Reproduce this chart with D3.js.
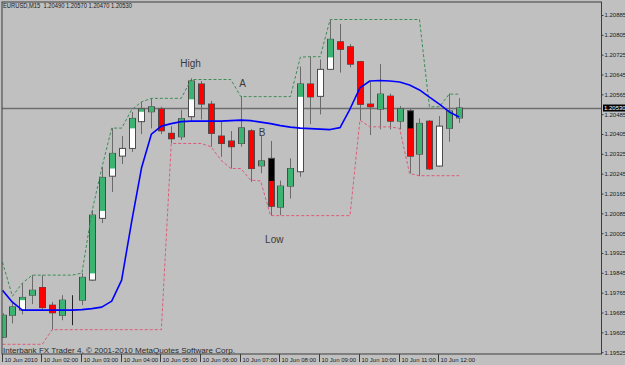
<!DOCTYPE html>
<html>
<head>
<meta charset="utf-8">
<script src="https://cdn.jsdelivr.net/npm/d3@7"></script>
<style>
html, body { margin: 0; padding: 0; background: #c0c0c0; }
svg { display: block; font-family: "Liberation Sans", Arial, sans-serif; }
</style>
</head>
<body>
<svg id="chart" width="625" height="365"></svg>
<script>
// EURUSD M15, 10 Jun 2010 - one value per bar
const symbolTitle = "EURUSD,M15  1.20490 1.20570 1.20470 1.20530";
const footerText = "Interbank FX Trader 4, \u00a9 2001-2010 MetaQuotes Software Corp.";
const bidPrice = 1.20530;

const opens = [1.19606, 1.19694, 1.19715, 1.19775, 1.19806, 1.19735, 1.19694, 1.19763, 1.19755, 1.19836,
    1.20085, 1.20255, 1.20336, 1.20367, 1.20475, 1.20515, 1.20526, 1.20428, 1.20414, 1.20495,
    1.20627, 1.20546, 1.20417, 1.20397, 1.20387, 1.20438, 1.20297, 1.20327, 1.20130, 1.20215,
    1.20273, 1.20627, 1.20577, 1.20686, 1.20797, 1.20777, 1.20717, 1.20546, 1.20526, 1.20578,
    1.20477, 1.20519, 1.20344, 1.20477, 1.20296, 1.20448, 1.20490];
const highs = [1.19702, 1.19748, 1.19824, 1.19856, 1.19856, 1.19748, 1.19775, 1.19775, 1.19864, 1.20118,
    1.20292, 1.20449, 1.20417, 1.20514, 1.20554, 1.20569, 1.20535, 1.20457, 1.20522, 1.20650,
    1.20639, 1.20559, 1.20475, 1.20437, 1.20578, 1.20445, 1.20417, 1.20397, 1.20237, 1.20327,
    1.20697, 1.20737, 1.20726, 1.20885, 1.20869, 1.20788, 1.20720, 1.20636, 1.20707, 1.20588,
    1.20538, 1.20529, 1.20488, 1.20481, 1.20498, 1.20589, 1.20570];
const lows = [1.19602, 1.19661, 1.19698, 1.19739, 1.19715, 1.19634, 1.19674, 1.19654, 1.19735, 1.19832,
    1.20066, 1.20191, 1.20304, 1.20353, 1.20425, 1.20448, 1.20425, 1.20387, 1.20401, 1.20477,
    1.20484, 1.20374, 1.20333, 1.20286, 1.20374, 1.20232, 1.20267, 1.20096, 1.20098, 1.20165,
    1.20253, 1.20465, 1.20504, 1.20683, 1.20673, 1.20694, 1.20481, 1.20421, 1.20444, 1.20444,
    1.20444, 1.20266, 1.20255, 1.20280, 1.20294, 1.20394, 1.20470];
const closes = [1.19694, 1.19728, 1.19766, 1.19795, 1.19725, 1.19704, 1.19755, 1.19763, 1.19847, 1.20098,
    1.20250, 1.20347, 1.20367, 1.20488, 1.20526, 1.20535, 1.20438, 1.20406, 1.20487, 1.20639,
    1.20546, 1.20428, 1.20387, 1.20374, 1.20450, 1.20286, 1.20317, 1.20134, 1.20215, 1.20286,
    1.20627, 1.20575, 1.20686, 1.20807, 1.20767, 1.20707, 1.20545, 1.20535, 1.20586, 1.20477,
    1.20526, 1.20336, 1.20468, 1.20284, 1.20457, 1.20518, 1.20530];

// coloured histogram drawn over the candle bodies (null = none)
const paintFrom = [1.19606, 1.19694, 1.19755, 1.19775, 1.19806, 1.19735, 1.19694, null, 1.19755, 1.19863,
    1.20115, 1.20286, null, 1.20448, 1.20515, 1.20515, 1.20526, 1.20428, 1.20414, 1.20565,
    1.20627, 1.20546, 1.20417, 1.20397, 1.20387, 1.20438, 1.20297, 1.20236, 1.20130, 1.20215,
    1.20575, 1.20627, null, 1.20734, 1.20797, 1.20777, 1.20717, 1.20546, 1.20526, 1.20578,
    1.20477, 1.20448, 1.20344, 1.20477, null, 1.20448, 1.20490];
const paintTo = [1.19694, 1.19728, 1.19766, 1.19795, 1.19725, 1.19704, 1.19755, null, 1.19847, 1.20098,
    1.20250, 1.20347, null, 1.20488, 1.20526, 1.20535, 1.20438, 1.20406, 1.20487, 1.20639,
    1.20546, 1.20428, 1.20387, 1.20374, 1.20450, 1.20286, 1.20317, 1.20134, 1.20215, 1.20286,
    1.20627, 1.20575, null, 1.20807, 1.20767, 1.20707, 1.20545, 1.20535, 1.20586, 1.20477,
    1.20526, 1.20336, 1.20468, 1.20284, null, 1.20518, 1.20530];

const maLine = [1.19795, 1.19747, 1.19715, 1.19715, 1.19715, 1.19715, 1.19715, 1.19715, 1.19717, 1.19721,
    1.19727, 1.19751, 1.19836, 1.20070, 1.20288, 1.20425, 1.20457, 1.20467, 1.20475, 1.20477,
    1.20477, 1.20477, 1.20477, 1.20479, 1.20481, 1.20479, 1.20473, 1.20467, 1.20459, 1.20453,
    1.20449, 1.20447, 1.20445, 1.20443, 1.20451, 1.20526, 1.20611, 1.20639, 1.20641, 1.20639,
    1.20635, 1.20623, 1.20603, 1.20574, 1.20546, 1.20514, 1.20494];
const upperBand = [1.19908, 1.19771, 1.19824, 1.19856, 1.19856, 1.19856, 1.19856, 1.19856, 1.19864, 1.20110,
    1.20288, 1.20449, 1.20449, 1.20522, 1.20555, 1.20569, 1.20569, 1.20569, 1.20569, 1.20645,
    1.20645, 1.20645, 1.20645, 1.20645, 1.20576, 1.20576, 1.20576, 1.20576, 1.20576, 1.20576,
    1.20735, 1.20737, 1.20737, 1.20887, 1.20887, 1.20887, 1.20887, 1.20887, 1.20887, 1.20887,
    1.20887, 1.20887, 1.20887, 1.20535, 1.20535, 1.20586, 1.20586];
const lowerBand = [1.19577, 1.19577, 1.19577, 1.19577, 1.19577, 1.19636, 1.19636, 1.19636, 1.19636, 1.19636,
    1.19636, 1.19636, 1.19636, 1.19636, 1.19636, 1.19636, 1.19636, 1.20387, 1.20387, 1.20387,
    1.20387, 1.20374, 1.20320, 1.20286, 1.20286, 1.20239, 1.20236, 1.20096, 1.20096, 1.20096,
    1.20096, 1.20096, 1.20096, 1.20096, 1.20096, 1.20096, 1.20481, 1.20454, 1.20454, 1.20454,
    1.20448, 1.20266, 1.20257, 1.20257, 1.20257, 1.20257, 1.20257];

const timeLabels = ["10 Jun 2010", "10 Jun 02:00", "10 Jun 03:00", "10 Jun 04:00", "10 Jun 05:00", "10 Jun 06:00",
    "10 Jun 07:00", "10 Jun 08:00", "10 Jun 09:00", "10 Jun 10:00", "10 Jun 11:00", "10 Jun 12:00"];
const timeLabelBars = [0, 4, 8, 12, 16, 20, 24, 28, 32, 36, 40, 44];
const priceTicks = [1.20885, 1.20805, 1.20725, 1.20645, 1.20565, 1.20485, 1.20405, 1.20325, 1.20245,
    1.20165, 1.20085, 1.20005, 1.19925, 1.19845, 1.19765, 1.19685, 1.19605, 1.19525];

// hand-drawn notes on the chart: bar index and price of the text baseline
const noteTexts = ["High", "A", "B", "Low"];
const noteBars = [17.9, 23.85, 25.8, 26.45];
const notePrices = [1.20697, 1.20613, 1.20418, 1.19985];

//Dimensions
const frame = {left: 2, top: 2, right: 601.5, bottom: 354};
const n = opens.length;

const svg = d3.select("#chart");

//Scales
let x = d3.scaleLinear().domain([0, n - 1]).range([2.5, 459.2]);
let y = d3.scaleLinear().domain([1.19525, 1.20885]).range([357.2, 20]);

svg.append("rect").attr("width", 625).attr("height", 365).attr("fill", "#c0c0c0");

svg.append("clipPath").attr("id", "plotClip")
    .append("rect")
    .attr("x", frame.left).attr("y", frame.top)
    .attr("width", frame.right - frame.left).attr("height", frame.bottom - frame.top);

let plot = svg.append("g").attr("clip-path", "url(#plotClip)");

//Bid line
plot.append("line")
    .attr("x1", frame.left).attr("x2", frame.right)
    .attr("y1", Math.round(y(bidPrice)) + 0.5).attr("y2", Math.round(y(bidPrice)) + 0.5)
    .attr("stroke", "#6f6f6f").attr("stroke-width", 1.6);

//Candles
const cx = i => Math.round(x(i));

let bars = plot.selectAll(".bar").data(d3.range(n)).enter().append("g").attr("class", "bar");

bars.append("line")
    .attr("x1", i => cx(i) + 0.5).attr("x2", i => cx(i) + 0.5)
    .attr("y1", i => y(highs[i])).attr("y2", i => y(lows[i]))
    .attr("stroke", i => opens[i] === closes[i] ? "#222" : "#6a6a6a").attr("stroke-width", 1);

bars.append("rect")
    .attr("x", i => cx(i) - 2.5)
    .attr("width", 6)
    .attr("y", i => y(Math.max(opens[i], closes[i])))
    .attr("height", i => Math.abs(y(opens[i]) - y(closes[i])))
    .attr("fill", i => closes[i] >= opens[i] ? "#ffffff" : "#000000")
    .attr("stroke", i => opens[i] === closes[i] ? "#222" : "#4a4a4a").attr("stroke-width", 1);

bars.filter(i => paintFrom[i] !== null).append("rect")
    .attr("x", i => cx(i) - 2)
    .attr("width", 5)
    .attr("y", i => y(Math.max(paintFrom[i], paintTo[i])))
    .attr("height", i => Math.abs(y(paintFrom[i]) - y(paintTo[i])))
    .attr("fill", i => paintTo[i] >= paintFrom[i] ? "#3cb371" : "#ff0000");

//Indicator lines
const lineOf = d3.line().x((d, i) => x(i)).y(d => y(d));

plot.append("path").datum(upperBand)
    .attr("d", lineOf).attr("fill", "none")
    .attr("stroke", "#3c8c55").attr("stroke-width", 1).attr("stroke-dasharray", "3,2");

plot.append("path").datum(lowerBand)
    .attr("d", lineOf).attr("fill", "none")
    .attr("stroke", "#dc5a78").attr("stroke-width", 1).attr("stroke-dasharray", "3,2");

plot.append("path").datum(maLine)
    .attr("d", lineOf).attr("fill", "none")
    .attr("stroke", "#0000ff").attr("stroke-width", 1.6).attr("stroke-linejoin", "round");

//Notes
plot.selectAll(".note").data(noteTexts).enter().append("text")
    .attr("x", (d, i) => x(noteBars[i])).attr("y", (d, i) => y(notePrices[i]))
    .attr("font-size", "10px").attr("fill", "#3a3a3a")
    .text(d => d);

//Title and footer
svg.append("text").attr("x", 3).attr("y", 8.3)
    .attr("font-size", "6.3px").attr("fill", "#1a1a1a")
    .attr("textLength", 129).attr("lengthAdjust", "spacingAndGlyphs")
    .style("white-space", "pre")
    .text(symbolTitle);

svg.append("text").attr("x", 3).attr("y", 353)
    .attr("font-size", "7.6px").attr("fill", "#2a2a2a")
    .attr("textLength", 232).attr("lengthAdjust", "spacingAndGlyphs")
    .text(footerText);

//Frame
svg.append("rect")
    .attr("x", frame.left).attr("y", frame.top)
    .attr("width", frame.right - frame.left).attr("height", frame.bottom - frame.top)
    .attr("fill", "none").attr("stroke", "#3c3c3c").attr("stroke-width", 1);

//Price axis (labels sit a few px above their level, as in the terminal)
let yAxis = d3.axisRight(y).tickValues(priceTicks).tickSize(2).tickPadding(1).tickFormat(d3.format(".5f"));
let yAxisG = svg.append("g").attr("transform", "translate(" + frame.right + ",-5)").call(yAxis);
yAxisG.select(".domain").remove();
yAxisG.selectAll("line").attr("stroke", "#3c3c3c");
yAxisG.selectAll("text").attr("font-size", "6px").attr("fill", "#1a1a1a").attr("font-family", "Liberation Sans");

//Bid box
svg.append("rect")
    .attr("x", 603).attr("y", y(bidPrice) - 3.5).attr("width", 22).attr("height", 7)
    .attr("fill", "#000");
svg.append("text")
    .attr("x", 604).attr("y", y(bidPrice)).attr("dy", "0.35em")
    .attr("font-size", "6px").attr("fill", "#fff")
    .text(d3.format(".5f")(bidPrice));

//Time axis
let timeG = svg.append("g");
let timeTicks = timeG.selectAll(".tick").data(timeLabels).enter().append("g")
    .attr("transform", (d, i) => "translate(" + (cx(timeLabelBars[i]) - 0.5) + "," + frame.bottom + ")");
timeTicks.append("line").attr("y1", 0).attr("y2", 8).attr("stroke", "#3c3c3c");
timeTicks.append("text").attr("x", 2).attr("y", 7.5)
    .attr("font-size", "6px").attr("fill", "#1a1a1a")
    .text(d => d);
</script>
</body>
</html>
